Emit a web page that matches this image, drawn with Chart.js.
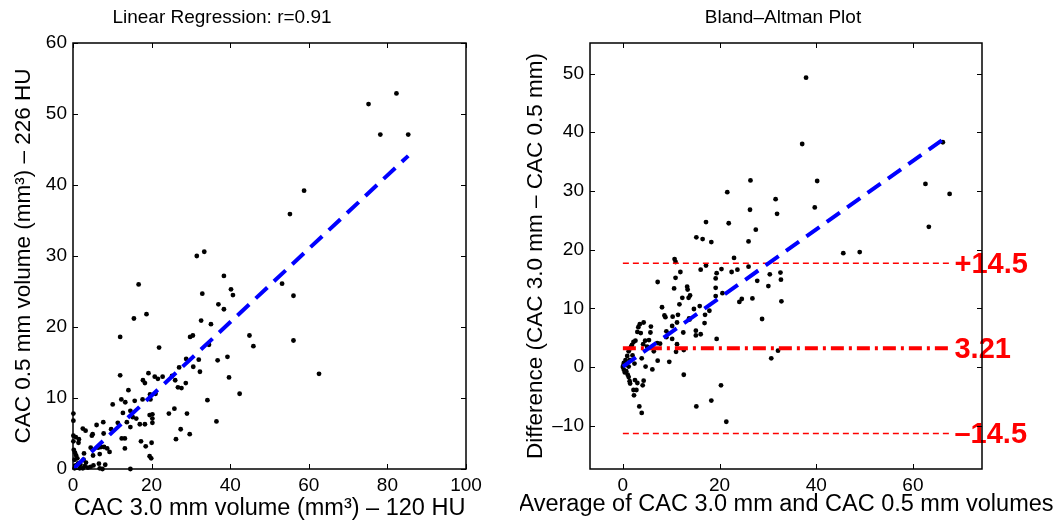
<!DOCTYPE html>
<html>
<head>
<meta charset="utf-8">
<script src="https://cdn.jsdelivr.net/npm/chart.js@4.4.0/dist/chart.umd.min.js"></script>
<style>
body { margin: 0; background: #fff; width: 1056px; height: 527px; overflow: hidden; position: relative; }
canvas { position: absolute; top: 0; }
#left { left: 0; }
#right { left: 520px; }
</style>
</head>
<body>
<canvas id="left" width="520" height="527"></canvas>
<canvas id="right" width="536" height="527"></canvas>
<script>
// ---- left panel: linear regression ----
var regTitle = 'Linear Regression: r=0.91';
var regXLabel = 'CAC 3.0 mm volume (mm³) – 120 HU';
var regYLabel = 'CAC 0.5 mm volume (mm³) – 226 HU';
var regXRange = [0, 100];
var regYRange = [0, 60];
var regXTicks = [0, 20, 40, 60, 80, 100];
var regYTicks = [0, 10, 20, 30, 40, 50, 60];
var vol3mm = [75.2, 82.3, 78.2, 85.3, 58.8, 55.2, 31.5, 33.4, 38.4, 16.7, 40.2, 40.7, 32.9, 53.2, 56.1, 37.0, 38.4, 18.7, 15.5, 32.6,
  35.1, 12.0, 29.8, 30.5, 44.9, 45.9, 56.1, 34.6, 21.9, 36.8, 39.3, 32.0, 28.8, 30.6, 32.3, 27.0, 12.0, 19.2, 20.8, 22.8,
  25.2, 21.6, 26.0, 17.8, 18.3, 28.7, 26.7, 27.6, 39.7, 62.6, 42.4, 14.1, 19.6, 21.0, 17.7, 19.7, 34.2, 12.3, 13.3, 15.7,
  10.1, 25.8, 14.6, 12.7, 19.5, 20.2, 24.4, 29.0, 15.2, 16.1, 20.2, 20.2, 36.5, 7.7, 11.4, 13.7, 17.0, 18.3, 6.0, 14.6,
  9.7, 27.4, 2.5, 3.2, 7.8, 5.0, 4.8, 29.7, 12.4, 13.2, 26.2, 17.3, 20.0, 18.5, 13.2, 4.5, 6.4, 7.1, 7.9, 8.7,
  9.3, 2.8, 5.1, 6.8, 19.5, 19.9, 2.7, 6.6, 8.2, 5.2, 14.6, 0.1, 0.1, 0.1, 0.7, 1.5, 1.4, 0.1, 0.2, 0.5,
  0.8, 0.4, 1.3, 1.9, 3.0, 3.8, 1.7, 0.4, 0.7, 2.5, 6.8, 7.5, 4.5, 3.3, 1.1];
var vol05mm = [51.4, 52.9, 47.1, 47.1, 39.2, 35.9, 30.0, 30.6, 27.2, 26.0, 25.3, 24.5, 24.7, 26.1, 24.4, 23.2, 22.5, 21.8, 21.2, 20.9,
  20.4, 18.6, 18.6, 18.8, 18.8, 17.3, 18.1, 17.5, 17.1, 15.3, 15.8, 15.4, 15.5, 14.4, 13.7, 14.3, 13.2, 13.5, 13.0, 13.0,
  13.1, 12.7, 12.5, 12.5, 12.1, 12.1, 11.5, 11.4, 12.9, 13.4, 10.6, 11.1, 10.5, 10.6, 9.8, 9.8, 9.7, 9.8, 9.4, 9.6,
  9.1, 8.5, 8.2, 7.9, 7.6, 7.7, 7.8, 7.8, 7.3, 7.1, 7.1, 6.5, 6.7, 6.6, 6.5, 6.6, 6.3, 6.3, 6.2, 5.9,
  5.6, 5.6, 5.7, 5.4, 5.0, 4.9, 4.7, 4.9, 4.3, 4.3, 4.2, 3.9, 3.7, 3.2, 2.9, 3.0, 3.0, 3.1, 3.1, 2.9,
  2.4, 2.2, 1.9, 2.1, 1.8, 1.5, 1.3, 0.75, 0.6, 0.5, 0.0, 7.8, 6.8, 4.7, 4.5, 4.2, 3.7, 3.9, 2.7, 2.3,
  1.9, 1.3, 0.8, 0.6, 0.4, 0.2, 0.1, 0.1, 0.5, 0.1, 0.1, 0.0, 0.3, 0.9, 1.5];
var fitX = [0, 85.3];
var fitY = [0, 44.1];

// ---- right panel: Bland-Altman ----
var baTitle = 'Bland–Altman Plot';
var baXLabel = 'Average of CAC 3.0 mm and CAC 0.5 mm volumes';
var baYLabel = 'Difference (CAC 3.0 mm – CAC 0.5 mm)';
var baXRange = [-6.8, 74.3];
var baYRange = [-17.35, 55.2];
var baXTicks = [0, 20, 40, 60];
var baYTicks = [-10, 0, 10, 20, 30, 40, 50];
var baAvg = [37.9, 37.1, 66.2, 26.4, 40.2, 62.6, 67.6, 21.6, 31.6, 26.3, 39.7, 31.9, 17.2, 21.9, 27.5, 63.3, 15.2, 16.5, 18.3, 26.0,
  45.6, 49.0, 10.7, 23.0, 10.9, 17.2, 26.0, 16.1, 20.4, 19.4, 22.5, 23.7, 32.6, 11.9, 19.2, 10.9, 30.4, 32.7, 7.2, 27.8,
  10.6, 13.3, 13.4, 19.2, 30.1, 12.3, 13.9, 13.6, 20.6, 19.2, 26.8, 24.6, 24.1, 32.8, 8.1, 11.7, 15.9, 14.7, 17.9, 8.6,
  8.8, 10.3, 11.4, 17.0, 13.7, 13.8, 28.8, 11.2, 16.9, 4.3, 3.5, 3.2, 5.8, 10.2, 9.0, 5.7, 3.0, 3.7, 12.5, 15.1,
  15.1, 16.1, 9.0, 10.2, 19.4, 5.4, 4.6, 2.6, 4.2, 11.2, 7.1, 7.7, 5.0, 1.9, 1.6, 6.4, 11.0, 12.6, 32.1, 7.2,
  9.6, 30.7, 3.9, 2.4, 4.7, 6.1, 12.6, 1.2, 1.4, 0.7, 1.0, 1.2, 1.4, 1.5, 2.5, 3.0, 4.3, 4.1, 2.2, 2.8,
  2.3, 3.4, 3.9, 15.2, 18.3, 20.3, 21.4, 0.0, 0.2, 0.55, 0.9, 1.2, 1.7, 0.2, 0.4, 0.1, 2.2, 2.0, 0.8];
var baDiff = [49.3, 38.0, 38.3, 31.8, 31.7, 31.2, 29.5, 29.8, 28.6, 26.8, 27.2, 26.1, 24.7, 24.5, 23.4, 23.9, 22.1, 21.8, 21.3, 21.4,
  19.4, 19.6, 18.4, 18.6, 17.9, 17.3, 17.1, 16.6, 16.7, 16.0, 16.2, 16.6, 16.1, 16.2, 15.1, 15.2, 15.8, 14.9, 14.5, 14.7,
  13.4, 13.7, 13.2, 13.5, 13.8, 11.8, 12.2, 11.8, 12.6, 12.1, 11.7, 11.6, 11.1, 11.2, 10.2, 10.7, 10.4, 9.9, 9.6, 8.8,
  8.5, 8.6, 8.9, 8.9, 8.3, 8.1, 8.2, 7.6, 7.5, 7.6, 7.3, 6.8, 6.9, 7.0, 6.1, 5.9, 6.0, 5.8, 5.9, 6.2,
  5.4, 5.6, 5.1, 4.8, 4.8, 4.6, 4.5, 4.5, 3.9, 3.9, 4.1, 4.0, 3.5, 3.8, 3.2, 2.7, 2.6, 2.9, 2.8, 1.1,
  0.9, 1.5, 1.5, 0.6, 0.1, -0.4, -1.3, 0.1, 1.2, -0.7, -1.3, -1.7, -2.4, -2.8, -2.2, -2.7, -2.3, -3.1, -3.9, -3.9,
  -4.8, -6.7, -7.8, -6.7, -5.7, -3.1, -9.3, 0.0, 0.7, 1.2, 1.9, 2.7, 3.5, -0.45, -0.9, 0.3, 4.3, 2.0, 0.4];
var baFitX = [0, 66.8];
var baFitY = [0.1, 39.1];
var meanDiff = 3.21;
var loaHalf = 14.5;
var limitX = [0, 67.7];
var limitLabels = ['+14.5', '3.21', '–14.5'];
var labelX = 68.6;

var fontFamily = '"Liberation Sans", Arial, Helvetica, sans-serif';
Chart.defaults.font.family = fontFamily;
Chart.defaults.color = '#000';

function pts(xs, ys) {
  return xs.map(function (x, i) { return { x: x, y: ys[i] }; });
}

function fmtTick(v) {
  return v < 0 ? '–' + Math.abs(v) : '' + v;
}

// matlab style box, inward ticks on all four sides, title and axis labels
var matlabAxes = {
  id: 'matlabAxes',
  afterDraw: function (chart) {
    var ctx = chart.ctx, a = chart.chartArea, o = chart.options.plugins.matlabAxes;
    var xs = chart.scales.x, ys = chart.scales.y, len = 5;
    ctx.save();
    ctx.strokeStyle = '#000';
    ctx.lineWidth = 1.5;
    ctx.strokeRect(a.left, a.top, a.right - a.left, a.bottom - a.top);
    ctx.lineWidth = 1;
    ctx.beginPath();
    xs.ticks.forEach(function (t) {
      var px = Math.round(xs.getPixelForValue(t.value)) + 0.5;
      ctx.moveTo(px, a.bottom); ctx.lineTo(px, a.bottom - len);
      ctx.moveTo(px, a.top); ctx.lineTo(px, a.top + len);
    });
    ys.ticks.forEach(function (t) {
      var py = Math.round(ys.getPixelForValue(t.value)) + 0.5;
      ctx.moveTo(a.left, py); ctx.lineTo(a.left + len, py);
      ctx.moveTo(a.right, py); ctx.lineTo(a.right - len, py);
    });
    ctx.stroke();

    ctx.fillStyle = '#000';
    ctx.textAlign = 'center';
    ctx.textBaseline = 'middle';
    ctx.font = o.titleSize + 'px ' + fontFamily;
    ctx.fillText(o.title, o.titleX, o.titleY);
    ctx.font = o.xLabelSize + 'px ' + fontFamily;
    ctx.fillText(o.xLabel, (a.left + a.right) / 2, o.xLabelY);
    ctx.font = o.yLabelSize + 'px ' + fontFamily;
    ctx.translate(o.yLabelX, (a.top + a.bottom) / 2);
    ctx.rotate(-Math.PI / 2);
    ctx.fillText(o.yLabel, 0, 0);
    ctx.restore();
  }
};

// red text at the end of the limit lines
var loaLabels = {
  id: 'loaLabels',
  afterDatasetsDraw: function (chart) {
    var ctx = chart.ctx, xs = chart.scales.x, ys = chart.scales.y;
    var vals = [meanDiff + loaHalf, meanDiff, meanDiff - loaHalf];
    ctx.save();
    ctx.fillStyle = '#ff0000';
    ctx.font = 'bold 29px ' + fontFamily;
    ctx.textAlign = 'left';
    ctx.textBaseline = 'middle';
    limitLabels.forEach(function (t, i) {
      ctx.fillText(t, xs.getPixelForValue(labelX), ys.getPixelForValue(vals[i]) + 2);
    });
    ctx.restore();
  }
};

function axis(range, ticks, fitProp, fitVal, pad) {
  return {
    type: 'linear',
    min: range[0],
    max: range[1],
    grid: { display: false, drawTicks: false },
    border: { display: false },
    ticks: { font: { size: 19 }, color: '#000', padding: pad, callback: fmtTick },
    afterBuildTicks: function (s) { s.ticks = ticks.map(function (v) { return { value: v }; }); },
    afterFit: function (s) { s[fitProp] = fitVal; }
  };
}

new Chart(document.getElementById('left'), {
  type: 'scatter',
  data: {
    datasets: [
      { data: pts(fitX, fitY), showLine: true, borderColor: '#0000ff', borderWidth: 4, borderDash: [16, 9], pointRadius: 0 },
      { data: pts(vol3mm, vol05mm), backgroundColor: '#000', borderWidth: 0, pointRadius: 2.4, clip: false }
    ]
  },
  options: {
    responsive: false,
    animation: false,
    layout: { padding: { right: 54, top: 43 } },
    plugins: {
      legend: { display: false },
      tooltip: { enabled: false },
      matlabAxes: {
        title: regTitle, titleSize: 19, titleX: 222, titleY: 18,
        xLabel: regXLabel, xLabelSize: 23.5, xLabelY: 509,
        yLabel: regYLabel, yLabelSize: 22.5, yLabelX: 24
      }
    },
    scales: {
      x: axis(regXRange, regXTicks, 'height', 58, 5),
      y: axis(regYRange, regYTicks, 'width', 73, 6)
    }
  },
  plugins: [matlabAxes]
});

var upper = meanDiff + loaHalf, lower = meanDiff - loaHalf;
new Chart(document.getElementById('right'), {
  type: 'scatter',
  data: {
    datasets: [
      { data: pts(baFitX, baFitY), showLine: true, borderColor: '#0000ff', borderWidth: 4, borderDash: [16, 9], pointRadius: 0 },
      { data: pts(limitX, [meanDiff, meanDiff]), showLine: true, borderColor: '#ff0000', borderWidth: 4, borderDash: [13, 5, 3, 5], pointRadius: 0 },
      { data: pts(limitX, [upper, upper]), showLine: true, borderColor: '#ff0000', borderWidth: 1.5, borderDash: [6, 4], pointRadius: 0 },
      { data: pts(limitX, [lower, lower]), showLine: true, borderColor: '#ff0000', borderWidth: 1.5, borderDash: [6, 4], pointRadius: 0 },
      { data: pts(baAvg, baDiff), backgroundColor: '#000', borderWidth: 0, pointRadius: 2.4, clip: false }
    ]
  },
  options: {
    responsive: false,
    animation: false,
    layout: { padding: { right: 74, top: 43 } },
    plugins: {
      legend: { display: false },
      tooltip: { enabled: false },
      matlabAxes: {
        title: baTitle, titleSize: 19, titleX: 263, titleY: 18,
        xLabel: baXLabel, xLabelSize: 23.5, xLabelY: 505,
        yLabel: baYLabel, yLabelSize: 22.5, yLabelX: 16
      }
    },
    scales: {
      x: axis(baXRange, baXTicks, 'height', 58, 5),
      y: axis(baYRange, baYTicks, 'width', 70, 6)
    }
  },
  plugins: [matlabAxes, loaLabels]
});
</script>
</body>
</html>
